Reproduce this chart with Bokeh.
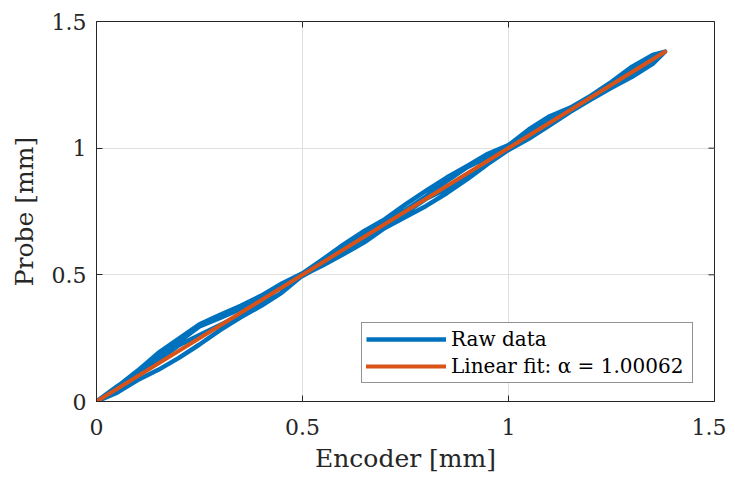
import math
from bokeh.plotting import figure
from bokeh.models import FixedTicker, Range1d, Legend, LegendItem
from bokeh.embed import file_html
from bokeh.resources import INLINE

# ---- data (mm) ----
enc_nodes = [0.00, 0.05, 0.10, 0.15, 0.20, 0.25, 0.30, 0.35, 0.40, 0.45,
             0.50, 0.55, 0.60, 0.65, 0.70, 0.75, 0.80, 0.85, 0.90, 0.95,
             1.00, 1.05, 1.10, 1.15, 1.20, 1.25, 1.30, 1.35, 1.38]
probe_up1 = [0.000, 0.035, 0.085, 0.125, 0.172, 0.225, 0.282, 0.332, 0.378, 0.430,
             0.497, 0.538, 0.582, 0.628, 0.685, 0.728, 0.772, 0.822, 0.878, 0.938,
             0.993, 1.038, 1.090, 1.143, 1.192, 1.238, 1.282, 1.333, 1.381]
probe_down1 = [0.000, 0.058, 0.122, 0.192, 0.248, 0.305, 0.342, 0.378, 0.418, 0.466,
               0.506, 0.562, 0.620, 0.673, 0.720, 0.778, 0.832, 0.884, 0.930, 0.978,
               1.012, 1.075, 1.126, 1.160, 1.207, 1.262, 1.322, 1.368, 1.381]
probe_up2 = [0.000, 0.045, 0.108, 0.162, 0.222, 0.262, 0.302, 0.342, 0.395, 0.455,
             0.495, 0.542, 0.600, 0.662, 0.716, 0.755, 0.810, 0.870, 0.925, 0.965,
             1.000, 1.060, 1.118, 1.155, 1.200, 1.250, 1.290, 1.355, 1.381]
probe_down2 = [0.000, 0.060, 0.115, 0.175, 0.236, 0.296, 0.330, 0.365, 0.410, 0.450,
               0.500, 0.545, 0.590, 0.645, 0.705, 0.745, 0.800, 0.840, 0.888, 0.955,
               1.000, 1.045, 1.105, 1.145, 1.200, 1.255, 1.310, 1.355, 1.381]

fit_enc = [0.0, 1.38]
fit_probe = [0.0, 1.3809]
fit_label = "Linear fit: α = 1.00062"
raw_label = "Raw data"

ticks = [0, 0.5, 1, 1.5]
tick_labels = ["0", "0.5", "1", "1.5"]

raw_x = enc_nodes + enc_nodes[::-1] + enc_nodes + enc_nodes[::-1]
raw_y = probe_up1 + probe_down1[::-1] + probe_up2 + probe_down2[::-1]

BLUE = "#0072BD"
ORANGE = "#D95319"
AX = "#262626"
FONT = "DejaVu Serif"

p = figure(output_backend="svg", toolbar_location=None,
           frame_width=618, frame_height=380,
           x_range=Range1d(0, 1.5), y_range=Range1d(0, 1.5),
           min_border_left=96, min_border_top=21, min_border_right=12,
           min_border_bottom=70)
p.background_fill_color = "white"
p.border_fill_color = "white"
p.outline_line_color = AX
p.outline_line_width = 1

p.xgrid.ticker = FixedTicker(ticks=ticks)
p.ygrid.ticker = FixedTicker(ticks=ticks)
p.xgrid.grid_line_color = "#dfdfdf"
p.ygrid.grid_line_color = "#dfdfdf"

r_raw = p.line(raw_x, raw_y, line_color=BLUE, line_width=4.5, line_join="round")
r_fit = p.line(fit_enc, fit_probe, line_color=ORANGE, line_width=4, line_cap="round")

# inward ticks on the top and right edges of the box
top_y = [1.5] * len(ticks)
right_x = [1.5] * len(ticks)
p.ray(x=ticks, y=top_y, length=6, length_units="screen", angle=-math.pi / 2,
      line_color=AX, line_width=1)
p.ray(x=right_x, y=ticks, length=6, length_units="screen", angle=math.pi,
      line_color=AX, line_width=1)

overrides = {t: l for t, l in zip(ticks, tick_labels)}
for ax in (p.xaxis[0], p.yaxis[0]):
    ax.ticker = FixedTicker(ticks=ticks)
    ax.major_label_overrides = overrides
    ax.major_tick_in = 6
    ax.major_tick_out = 0
    ax.minor_tick_in = 0
    ax.minor_tick_out = 0
    ax.axis_line_color = AX
    ax.major_tick_line_color = AX
    ax.major_label_text_font = FONT
    ax.major_label_text_font_size = "22px"
    ax.major_label_text_color = "#262626"
    ax.axis_label_text_font = FONT
    ax.axis_label_text_font_size = "25px"
    ax.axis_label_text_font_style = "normal"
    ax.axis_label_text_color = "#262626"

p.xaxis[0].axis_label = "Encoder [mm]"
p.yaxis[0].axis_label = "Probe [mm]"
p.xaxis[0].major_label_standoff = 17
p.yaxis[0].major_label_standoff = 10
p.xaxis[0].axis_label_standoff = 6
p.yaxis[0].axis_label_standoff = 10

legend = Legend(items=[LegendItem(label=raw_label, renderers=[r_raw]),
                       LegendItem(label=fit_label, renderers=[r_fit])],
                location=(265, 18))
legend.label_text_font = FONT
legend.label_text_font_size = "20px"
legend.label_text_color = "#000000"
legend.glyph_width = 80
legend.glyph_height = 22
legend.label_standoff = 5
legend.label_width = 237
legend.spacing = 3
legend.padding = 4
legend.margin = 0
legend.border_line_color = AX
legend.border_line_width = 1
legend.background_fill_alpha = 1
p.add_layout(legend, "center")

open("out.html", "w").write(file_html(p, INLINE))
